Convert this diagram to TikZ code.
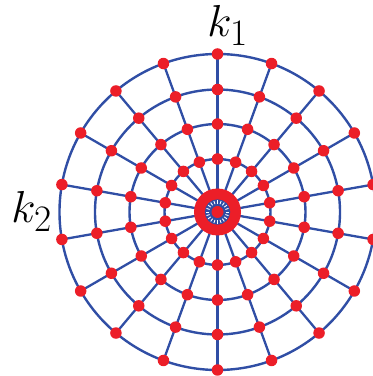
\documentclass[tikz,border=0pt]{standalone}
\definecolor{webblue}{RGB}{48,78,165}
\definecolor{dotred}{RGB}{236,30,40}
\tikzset{
  ringline/.style={draw=webblue, line width=2.4pt},
  spokeline/.style={draw=webblue, line width=2.3pt},
  axisline/.style={draw=webblue, line width=3.4pt},
  webdot/.style={circle, fill=dotred, inner sep=0pt, minimum size=11.5pt},
  lbl/.style={inner sep=0pt, font=\Huge, scale=1.8, transform shape}
}
\begin{document}
\begin{tikzpicture}[x=1pt,y=1pt]
\useasboundingbox (0,0) rectangle (373,376);
\clip (0,0) rectangle (373,376);
\coordinate (c) at (217.5,164);
% ring coordinates
\foreach \r [count=\i] in {158,122.5,88,53}{
  \foreach \k in {0,...,17}{
    \coordinate (p\i-\k) at ([shift={(90+20*\k:\r)}]c);
  }
  \draw[ringline] (c) circle (\r);
}
% spokes
\foreach \k in {0,...,17}{
  \draw[spokeline] (c) -- (p1-\k);
}
\draw[axisline] (p1-0) -- (p1-9);
% hub
\node[circle, fill=dotred, inner sep=0pt, minimum size=47pt] (hub) at (c) {};
\node[circle, fill=webblue, inner sep=0pt, minimum size=25.4pt] (hubring) at (c) {};
\foreach \a in {0,18,...,342}{
  \draw[white, line width=0.9pt] ([shift={(\a:8.3)}]c) -- ([shift={(\a:11.6)}]c);
}
\node[circle, fill=dotred, inner sep=0pt, minimum size=12pt] (hubdot) at (c) {};
% dots
\foreach \i in {1,...,4}{
  \foreach \k in {0,...,17}{
    \node[webdot] (d\i-\k) at (p\i-\k) {};
  }
}
% labels
\node[lbl, anchor=base west] (k1) at (207,339) {$k_1$};
\node[lbl, anchor=base west] (k2) at (11,153) {$k_2$};
\end{tikzpicture}
\end{document}
